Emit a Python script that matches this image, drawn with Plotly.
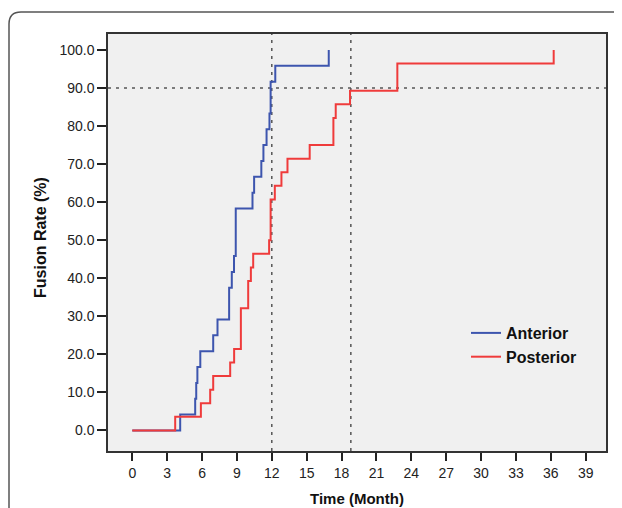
import plotly.graph_objects as go

# ---- data ----
anterior_time = [0, 4.12, 5.41, 5.5, 5.6, 5.85, 6.96, 7.33, 8.33, 8.56, 8.75, 8.9,
                 10.34, 10.48, 11.1, 11.28, 11.55, 11.8, 11.9, 12.3, 16.9]
anterior_rate = [0.0, 4.17, 8.33, 12.5, 16.67, 20.83, 25.0, 29.17, 37.5, 41.67, 45.83, 58.33,
                 62.5, 66.67, 70.83, 75.0, 79.17, 83.33, 91.67, 95.83, 100.0]

posterior_time = [0, 3.69, 5.9, 6.7, 6.96, 8.42, 8.76, 9.34, 9.97, 10.2, 10.4, 11.77,
                  11.9, 12.26, 12.83, 13.35, 15.26, 17.3, 17.5, 18.73, 22.8, 36.25]
posterior_rate = [0.0, 3.57, 7.14, 10.71, 14.29, 17.86, 21.43, 32.14, 39.29, 42.86, 46.43, 50.0,
                  60.71, 64.29, 67.86, 71.43, 75.0, 82.14, 85.71, 89.29, 96.43, 100.0]

ref_times = [12, 18.8]
ref_rate = 90

x_ticks = list(range(0, 40, 3))
y_ticks = [0, 10, 20, 30, 40, 50, 60, 70, 80, 90, 100]
y_tick_labels = [f"{v:.1f}" for v in y_ticks]

# ---- layout geometry (page pixels; the page body has an 8px margin) ----
OFF = 8
W, H = 622 - OFF, 508 - OFF
P_LEFT, P_RIGHT, P_TOP, P_BOTTOM = 108, 606, 34, 451   # plot area on the page
ML = P_LEFT - OFF
MR = W - (P_RIGHT - OFF)
MT = P_TOP - OFF
MB = H - (P_BOTTOM - OFF)
PW, PH = P_RIGHT - P_LEFT, P_BOTTOM - P_TOP

def px_x(p):
    return (p - P_LEFT) / PW

def px_y(p):
    return (P_BOTTOM - p) / PH

FONT = "Liberation Sans, Arial, sans-serif"

fig = go.Figure()
fig.add_trace(go.Scatter(x=anterior_time, y=anterior_rate, mode="lines", name="<b>Anterior</b>",
                         line=dict(color="#3d55ae", width=2, shape="hv")))
fig.add_trace(go.Scatter(x=posterior_time, y=posterior_rate, mode="lines", name="<b>Posterior</b>",
                         line=dict(color="#ef3b3b", width=2, shape="hv")))

# reference dashed lines
for t in ref_times:
    fig.add_shape(type="line", xref="x", yref="paper", x0=t, x1=t, y0=0, y1=1,
                  line=dict(color="#555", width=1.5, dash="3px,5px"), layer="below")
fig.add_shape(type="line", xref="paper", yref="y", x0=0, x1=1, y0=ref_rate, y1=ref_rate,
              line=dict(color="#555", width=1.5, dash="3px,5px"), layer="below")

# outer rounded frame
fl, ft, fr, fb, rad = 9, 12, 660, 540, 12
path = (f"M {px_x(fl)},{px_y(fb)} L {px_x(fl)},{px_y(ft + rad)} "
        f"Q {px_x(fl)},{px_y(ft)} {px_x(fl + rad)},{px_y(ft)} L {px_x(fr)},{px_y(ft)}")
fig.add_shape(type="path", xref="paper", yref="paper", path=path,
              line=dict(color="#555", width=1.5))

fig.add_annotation(text="<b>Time (Month)</b>", xref="paper", yref="paper",
                   x=0.5, y=px_y(498), showarrow=False, xanchor="center", yanchor="middle",
                   font=dict(family=FONT, size=15, color="#111"))
fig.add_annotation(text="<b>Fusion Rate (%)</b>", xref="paper", yref="paper",
                   x=px_x(41), y=px_y(238), showarrow=False, xanchor="center", yanchor="middle",
                   textangle=-90, font=dict(family=FONT, size=16, color="#111"))

fig.update_layout(
    width=W, height=H,
    margin=dict(l=ML, r=MR, t=MT, b=MB),
    paper_bgcolor="white",
    plot_bgcolor="#f0f0f0",
    font=dict(family=FONT, size=14, color="#222"),
    showlegend=True,
    legend=dict(x=px_x(466), y=px_y(316), xanchor="left", yanchor="top",
                bgcolor="rgba(0,0,0,0)", borderwidth=0,
                font=dict(family=FONT, size=16, color="#111")),
)
fig.update_xaxes(range=[-2.09, 40.75], tickvals=x_ticks, ticks="outside", ticklen=8,
                 tickwidth=1.5, tickcolor="#222", showgrid=False, zeroline=False,
                 showline=True, linecolor="#333", linewidth=1.5, mirror=True,
                 tickfont=dict(size=14))
fig.update_yaxes(range=[-5.4, 104.2], tickvals=y_ticks, ticktext=y_tick_labels,
                 ticks="outside", ticklen=9, tickwidth=1.5, tickcolor="#222",
                 showgrid=False, zeroline=False, showline=True, linecolor="#333",
                 linewidth=1.5, mirror=True, tickfont=dict(size=14))

fig.write_html("out.html")
